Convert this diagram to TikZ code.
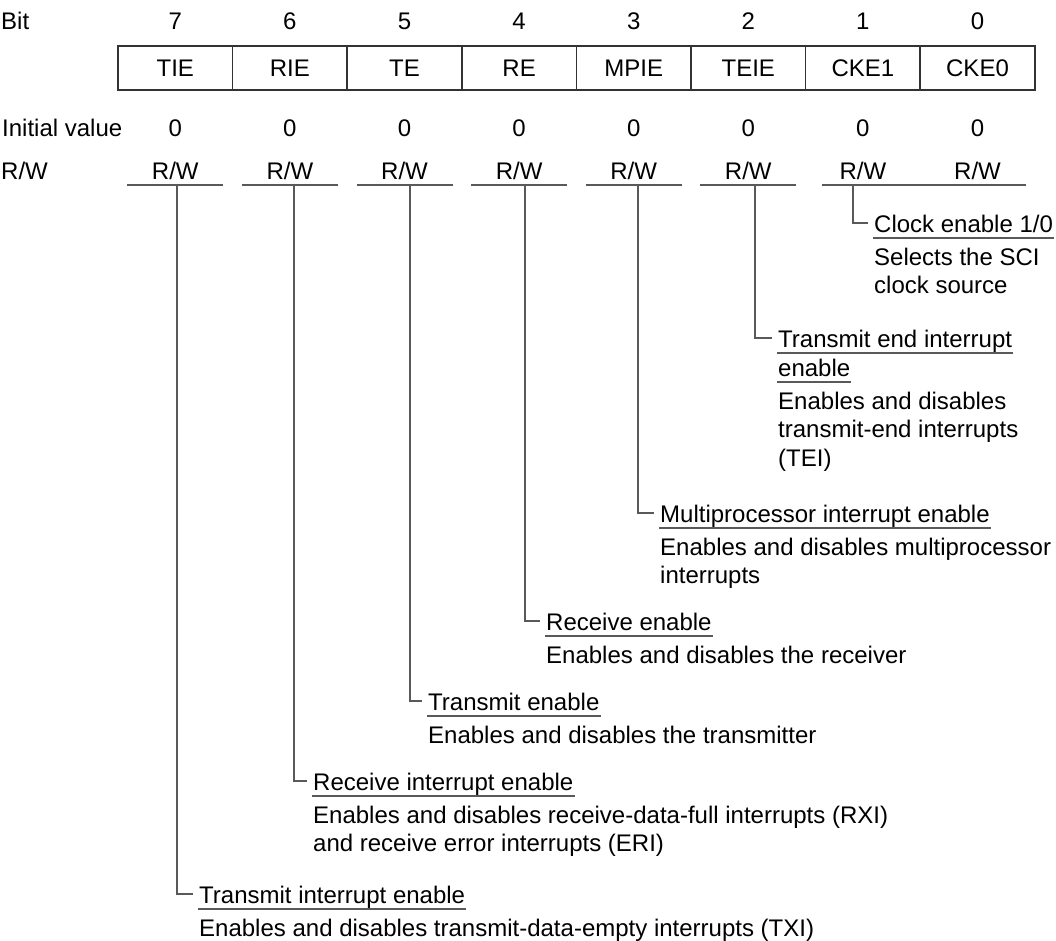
\documentclass[tikz,border=0pt]{standalone}
\usepackage{fontspec}
\setmainfont{Liberation Sans}
\usetikzlibrary{positioning,calc}

\begin{document}
\begin{tikzpicture}[
    x=1pt, y=-1pt,
    font=\fontsize{24}{28.5}\selectfont,
    cell/.style={draw=black!80, line width=1.6pt, minimum width=114.6pt, minimum height=44pt, inner sep=0pt},
    txt/.style={inner sep=1pt, anchor=base},
    rowlabel/.style={inner sep=1pt, anchor=base west},
    rwline/.style={draw=black!65, line width=1.4pt},
    stem/.style={draw=black!65, line width=1.4pt},
    title/.style={inner sep=1pt, anchor=base west},
    desc/.style={inner sep=1pt, anchor=north west, align=left}
]
\useasboundingbox (0,0) rectangle (1056,940);

% row labels
\node[rowlabel] (lbit) at (0,29) {Bit};
\node[rowlabel] (linit) at (1,136) {Initial value};
\node[rowlabel] (lrw) at (0,179) {R/W};

% register cells with bit number, initial value and R/W
\foreach \n/\t [count=\i from 0] in {tie/TIE, rie/RIE, te/TE, re/RE, mpie/MPIE, teie/TEIE, ckea/CKE1, ckeb/CKE0} {
  \pgfmathtruncatemacro\b{7-\i}
  \node[cell] (\n) at ({175.3+114.6*\i},68) {\t};
  \node[txt] (bit\n) at (\n |- lbit.base) {\b};
  \node[txt] (init\n) at (\n |- linit.base) {0};
  \node[txt] (rw\n) at (\n |- lrw.base) {R/W};
}
\foreach \n in {tie, rie, te, re, mpie, teie}
  \draw[rwline] ($(rw\n.base)+(-48,6)$) -- ($(rw\n.base)+(48,6)$);
\draw[rwline] ($(rwckea.base)+(-41,6)$) -- ($(rwckeb.base)+(48,6)$);

% stem tops
\coordinate (stie) at (177,185);
\coordinate (srie) at (294,185);
\coordinate (ste) at (410,185);
\coordinate (sre) at (525,185);
\coordinate (smpie) at (638,185);
\coordinate (steie) at (755,185);
\coordinate (scke) at (853,185);

% field titles
\node[title] (tcke) at (873,232) {Clock enable 1/0};
\node[title] (tteie) at (777,347) {Transmit end interrupt};
\node[title] (tteieb) at (777,376) {enable};
\node[title] (tmpie) at (659,522) {Multiprocessor interrupt enable};
\node[title] (tre) at (545,630) {Receive enable};
\node[title] (tte) at (427,710) {Transmit enable};
\node[title] (trie) at (312,790) {Receive interrupt enable};
\node[title] (ttie) at (198,903) {Transmit interrupt enable};

\foreach \n in {tcke, tteie, tteieb, tmpie, tre, tte, trie, ttie}
  \draw[rwline] ([yshift=-6pt]\n.base west) -- ([yshift=-6pt]\n.base east);

% descriptions
\node[desc] (dcke) at ([yshift=-14.5pt]tcke.base west) {Selects the SCI\\clock source};
\node[desc] (dteie) at ([yshift=-14.5pt]tteieb.base west) {Enables and disables\\transmit-end interrupts\\(TEI)};
\node[desc] (dmpie) at ([yshift=-14.5pt]tmpie.base west) {Enables and disables multiprocessor\\interrupts};
\node[desc] (dre) at ([yshift=-14.5pt]tre.base west) {Enables and disables the receiver};
\node[desc] (dte) at ([yshift=-14.5pt]tte.base west) {Enables and disables the transmitter};
\node[desc] (drie) at ([yshift=-14.5pt]trie.base west) {Enables and disables receive-data-full interrupts (RXI)\\and receive error interrupts (ERI)};
\node[desc] (dtie) at ([yshift=-14.5pt]ttie.base west) {Enables and disables transmit-data-empty interrupts (TXI)};

% stems to titles
\foreach \s/\t in {scke/tcke, steie/tteie, smpie/tmpie, sre/tre, ste/tte, srie/trie, stie/ttie}
  \draw[stem] (\s) |- ([xshift=-5pt,yshift=9pt]\t.base west);
\end{tikzpicture}
\end{document}
